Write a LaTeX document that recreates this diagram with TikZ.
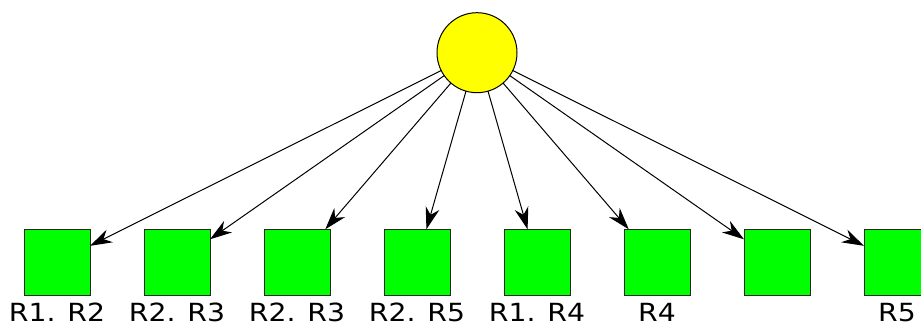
\documentclass[tikz,border=0pt]{standalone}
\usepackage{fontspec}
\setmainfont{DejaVu Sans}[FakeStretch=1.13]
\usetikzlibrary{arrows.meta}
\begin{document}
\begin{tikzpicture}[x=1pt,y=1pt,
  sq/.style={draw=black!85,line width=1pt,fill={rgb,255:red,0;green,255;blue,0},minimum width=66pt,minimum height=66pt,inner sep=0pt,outer sep=0pt},
  lat/.style={circle,draw=black,line width=1pt,fill={rgb,255:red,255;green,255;blue,0},minimum size=80pt,inner sep=0pt,outer sep=0pt},
  lab/.style={font=\fontsize{25pt}{28pt}\selectfont,anchor=base,inner sep=0pt},
  arr/.style={line width=1pt,-{Stealth[length=22pt,width=14pt,inset=7pt]}}]
\useasboundingbox (0,0) rectangle (921,324);
\clip (0,0) rectangle (921,324);
\node[lat] (c) at (477,271.3) {};
\foreach \i/\t in {0/R1. R2,1/R2. R3,2/R2. R3,3/R2. R5,4/R1. R4,5/R4,6/,7/R5}{
  \node[sq] (s\i) at (57+120*\i,61.7) {};
  \node[lab] (l\i) at (57+120*\i,2.3) {\t};
  \draw[arr] (c) -- (s\i);
}
\end{tikzpicture}
\end{document}
